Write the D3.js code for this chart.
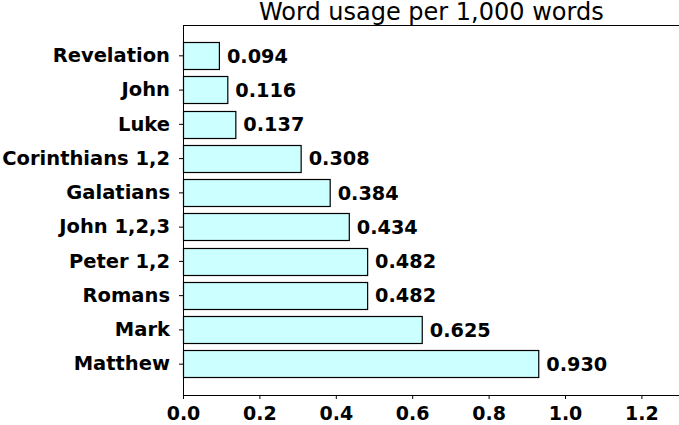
<!DOCTYPE html>
<html><head><meta charset="utf-8">
<script src="https://cdn.jsdelivr.net/npm/d3@7"></script>
<style>body{margin:0;background:#fff}svg{display:block}text{font-family:"DejaVu Sans",sans-serif}</style>
</head><body><svg id="c" width="679" height="425"></svg>
<script>
const categories = ["Revelation","John","Luke","Corinthians 1,2","Galatians","John 1,2,3","Peter 1,2","Romans","Mark","Matthew"];
const values = [0.094,0.116,0.137,0.308,0.384,0.434,0.482,0.482,0.625,0.930];
const xTicks = [0,0.2,0.4,0.6,0.8,1.0,1.2];
const title = "Word usage per 1,000 words";

const svg = d3.select("#c");
const L=183, R=679.6, T=25, B=395;
const x = d3.scaleLinear().domain([0,1.3]).range([L,R]);
const y = d3.scaleBand().domain(categories).range([T,B]).paddingInner(0.2).paddingOuter(0.5);

svg.selectAll("rect.bar").data(values).join("rect").attr("class","bar")
  .attr("x",x(0)+0.5).attr("y",(d,i)=>Math.round(y(categories[i]))+0.5)
  .attr("width",d=>x(d)-x(0)).attr("height",Math.round(y.bandwidth()))
  .attr("fill","#ccffff").attr("stroke","#000").attr("stroke-width",1.2);

svg.selectAll("text.val").data(values).join("text").attr("class","val")
  .attr("x",d=>x(d)+8).attr("y",(d,i)=>y(categories[i])+y.bandwidth()/2)
  .attr("dy","0.35em").attr("font-size",19.3).attr("font-weight","bold")
  .text(d=>d3.format(".3f")(d));

const xa = svg.append("g").attr("transform",`translate(0,${B})`)
  .call(d3.axisBottom(x).tickValues(xTicks).tickFormat(d3.format(".1f")).tickSize(4).tickSizeOuter(0));
xa.select(".domain").remove();
xa.selectAll("text").attr("font-size",19).attr("font-weight","bold").attr("font-family","DejaVu Sans").attr("dy","0.95em").attr("fill","#000");
xa.selectAll("line").attr("stroke","#000");

const ya = svg.append("g").attr("transform",`translate(${L},0)`)
  .call(d3.axisLeft(y).tickSize(4).tickSizeOuter(0).tickPadding(9));
ya.select(".domain").remove();
ya.selectAll("text").attr("font-size",19.5).attr("font-weight","bold").attr("font-family","DejaVu Sans").attr("fill","#000");
ya.selectAll("line").attr("stroke","#000");

svg.append("line").attr("x1",L+0.5).attr("x2",L+0.5).attr("y1",T).attr("y2",B).attr("stroke","#000");
svg.append("line").attr("x1",L).attr("x2",679).attr("y1",B+0.5).attr("y2",B+0.5).attr("stroke","#000");
svg.append("line").attr("x1",L).attr("x2",679).attr("y1",T+0.5).attr("y2",T+0.5).attr("stroke","#000");

svg.append("text").attr("x",(L+R)/2).attr("y",19.5).attr("text-anchor","middle")
  .attr("font-size",24).text(title);
</script></body></html>
